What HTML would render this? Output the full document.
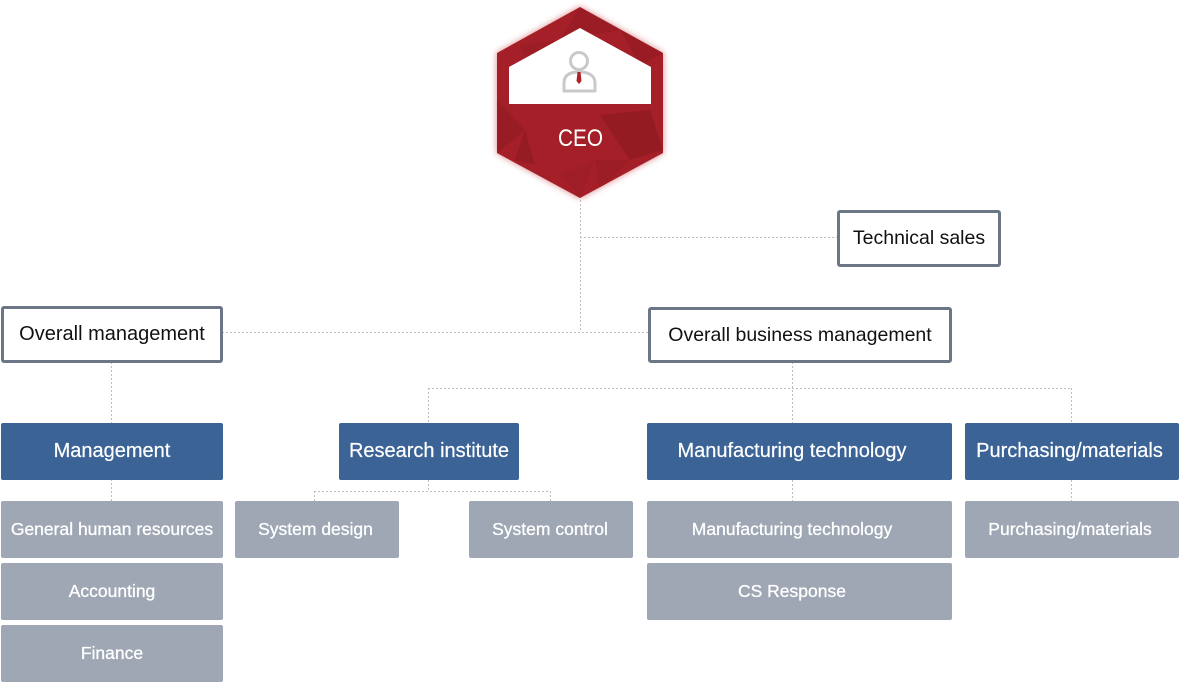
<!DOCTYPE html>
<html>
<head>
<meta charset="utf-8">
<style>
  html,body{margin:0;padding:0;background:#fff;}
  #root{position:relative;width:1179px;height:682px;overflow:hidden;background:#fff;font-family:"Liberation Sans",sans-serif;}
  .box{position:absolute;display:flex;align-items:center;justify-content:center;box-sizing:border-box;white-space:nowrap;}
  .ol{border:3px solid #6b7687;border-radius:3px;background:#fff;color:#111;font-size:19.5px;}
  .bl{background:#3c6396;color:#fff;font-size:20px;border-radius:2px;-webkit-text-stroke:0.2px #fff;}
  .gr{background:#9ea7b3;color:#fff;font-size:17.5px;border-radius:2px;-webkit-text-stroke:0.3px #fff;}
  svg{position:absolute;left:0;top:0;}
</style>
</head>
<body>
<div id="root">
<svg width="1179" height="682" viewBox="0 0 1179 682">
  <defs>
    <filter id="glow" x="-20%" y="-20%" width="140%" height="140%">
      <feGaussianBlur stdDeviation="3.5"/>
    </filter>
    <clipPath id="hexclip">
      <polygon points="580,7 663,53 663,153 580,198 497,153 497,53"/>
    </clipPath>
  </defs>
  <g stroke="#bdbdbd" stroke-width="1" stroke-dasharray="2,2" fill="none">
    <line x1="580.5" y1="200" x2="580.5" y2="332"/>
    <line x1="580" y1="237.5" x2="837" y2="237.5"/>
    <line x1="222" y1="332.5" x2="648" y2="332.5"/>
    <line x1="111.5" y1="362" x2="111.5" y2="423"/>
    <line x1="111.5" y1="479" x2="111.5" y2="501"/>
    <line x1="792.5" y1="362" x2="792.5" y2="423"/>
    <line x1="428" y1="388.5" x2="1071" y2="388.5"/>
    <line x1="428.5" y1="388" x2="428.5" y2="423"/>
    <line x1="1071.5" y1="388" x2="1071.5" y2="423"/>
    <line x1="428.5" y1="480" x2="428.5" y2="491"/>
    <line x1="314" y1="491.5" x2="550" y2="491.5"/>
    <line x1="314.5" y1="491" x2="314.5" y2="501"/>
    <line x1="550.5" y1="491" x2="550.5" y2="501"/>
    <line x1="792.5" y1="480" x2="792.5" y2="501"/>
    <line x1="1071.5" y1="480" x2="1071.5" y2="501"/>
  </g>
  <!-- CEO hexagon -->
  <polygon points="580,7 663,53 663,153 580,198 497,153 497,53" fill="#c0323a" opacity="0.6" filter="url(#glow)"/>
  <polygon points="580,7 663,53 663,153 580,198 497,153 497,53" fill="#a41f27"/>
  <g clip-path="url(#hexclip)">
    <polygon points="580,7 620,30 560,40" fill="#901a21" opacity="0.5"/>
    <polygon points="520,45 560,40 530,70" fill="#951b22" opacity="0.45"/>
    <polygon points="620,30 663,53 640,65" fill="#8e1a21" opacity="0.5"/>
    <polygon points="497,100 525,130 497,153" fill="#8c1a21" opacity="0.5"/>
    <polygon points="525,130 535,165 515,160" fill="#8a1920" opacity="0.55"/>
    <polygon points="600,115 650,110 663,150 630,160" fill="#8e1a21" opacity="0.65"/>
    <polygon points="595,160 630,160 600,190" fill="#931b22" opacity="0.45"/>
    <polygon points="560,175 595,160 580,198" fill="#981c23" opacity="0.45"/>
  </g>
  <polygon points="509,104 509,67 580,28 651,67 651,104" fill="#fff"/>
  <!-- person icon -->
  <circle cx="579" cy="61" r="8.5" fill="none" stroke="#c9c9c9" stroke-width="3"/>
  <path d="M564,91 V83 C564,75 570,72 579,72 C588,72 595,75 595,83 V91 Z" fill="none" stroke="#c9c9c9" stroke-width="3" stroke-linejoin="round"/>
  <path d="M577.5,72 L580.5,72 L581.5,81 L579,84 L576.5,81 Z" fill="#b01e26"/>
  <text x="580.5" y="146" text-anchor="middle" fill="#fff" font-family="Liberation Sans, sans-serif" font-size="24.5" textLength="45" lengthAdjust="spacingAndGlyphs">CEO</text>
</svg>

<div class="box ol" style="left:837px;top:210px;width:164px;height:57px;font-size:19.5px;">Technical sales</div>
<div class="box ol" style="left:1px;top:306px;width:222px;height:57px;font-size:20px;">Overall management</div>
<div class="box ol" style="left:648px;top:307px;width:304px;height:56px;">Overall business management</div>

<div class="box bl" style="left:1px;top:423px;width:222px;height:57px;">Management</div>
<div class="box bl" style="left:339px;top:423px;width:180px;height:57px;">Research institute</div>
<div class="box bl" style="left:647px;top:423px;width:305px;height:57px;padding-right:15px;">Manufacturing technology</div>
<div class="box bl" style="left:965px;top:423px;width:214px;height:57px;padding-right:5px;">Purchasing/materials</div>

<div class="box gr" style="left:1px;top:501px;width:222px;height:57px;">General human resources</div>
<div class="box gr" style="left:1px;top:563px;width:222px;height:57px;">Accounting</div>
<div class="box gr" style="left:1px;top:625px;width:222px;height:57px;">Finance</div>

<div class="box gr" style="left:235px;top:501px;width:164px;height:57px;padding-right:3px;">System design</div>
<div class="box gr" style="left:469px;top:501px;width:164px;height:57px;padding-right:2px;">System control</div>

<div class="box gr" style="left:647px;top:501px;width:305px;height:57px;padding-right:15px;">Manufacturing technology</div>
<div class="box gr" style="left:647px;top:563px;width:305px;height:57px;padding-right:15px;">CS Response</div>

<div class="box gr" style="left:965px;top:501px;width:214px;height:57px;padding-right:4px;">Purchasing/materials</div>
</div>
</body>
</html>
